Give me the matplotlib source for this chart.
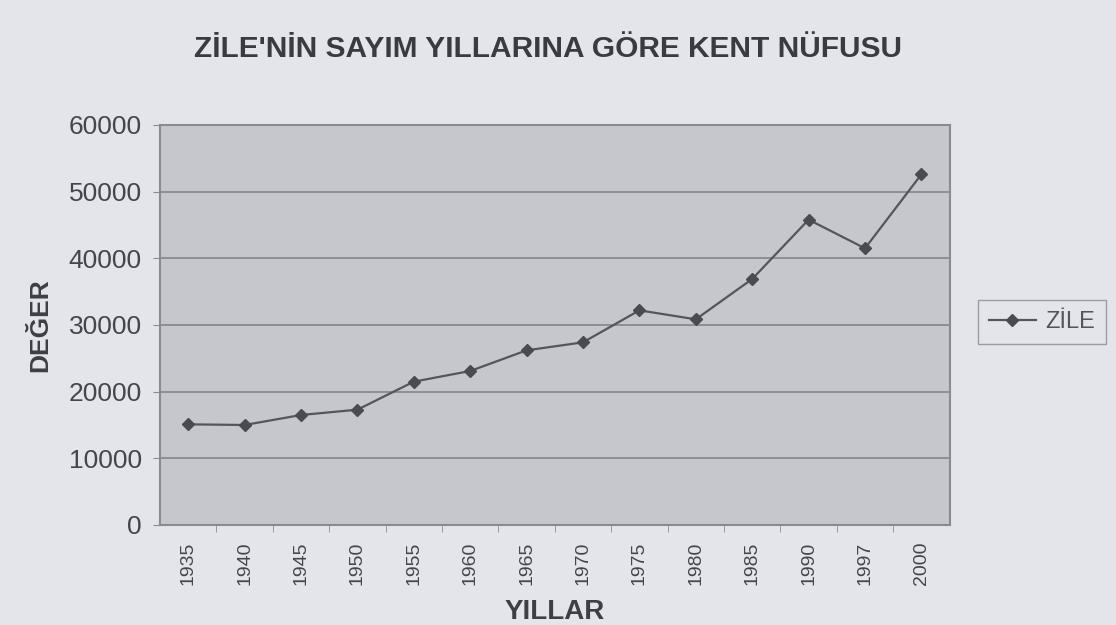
import matplotlib
matplotlib.use("Agg")
import matplotlib.pyplot as plt

years = ["1935", "1940", "1945", "1950", "1955", "1960", "1965", "1970",
         "1975", "1980", "1985", "1990", "1997", "2000"]
population = [15100, 15000, 16500, 17300, 21500, 23100, 26200, 27400,
              32200, 30850, 36900, 45800, 41500, 52600]
yticks = [0, 10000, 20000, 30000, 40000, 50000, 60000]

plt.rcParams['font.family'] = ['Liberation Sans', 'DejaVu Sans']

fig = plt.figure(figsize=(11.16, 6.25), dpi=100, facecolor="#e4e5ea")
ax = fig.add_axes([0.1434, 0.16, 0.7075, 0.64])
ax.set_facecolor("#c6c7cc")

x = list(range(len(years)))
line, = ax.plot(x, population, color="#55565c", lw=1.6, marker="D",
                markersize=6.5, markerfacecolor="#4a4b50",
                markeredgecolor="#4a4b50", label="ZİLE", zorder=3)

ax.set_xlim(-0.5, len(years) - 0.5)
ax.set_ylim(0, 60000)
ax.set_yticks(yticks)
ax.set_yticklabels([str(v) for v in yticks], fontsize=19, color="#45464c")
ax.set_xticks(x)
ax.set_xticklabels(years, rotation=90, fontsize=14, color="#45464c")
ax.set_xticks([i + 0.5 for i in x[:-1]], minor=True)
ax.tick_params(axis='x', which='major', length=0, pad=12)
ax.tick_params(axis='x', which='minor', length=5, color="#8a8b90")
ax.tick_params(axis='y', length=5, color="#8a8b90", pad=8)
ax.grid(axis='y', color="#85868b", lw=1.2)
ax.set_axisbelow(True)
for s in ax.spines.values():
    s.set_color("#8a8b90")
    s.set_linewidth(1.5)

ax.set_ylabel("DEĞER", fontsize=19, fontweight="bold", color="#3e3f45", labelpad=12)
ax.set_xlabel("YILLAR", fontsize=20, fontweight="bold", color="#3e3f45", labelpad=10)

fig.text(0.491, 0.922, "ZİLE'NİN SAYIM YILLARINA GÖRE KENT NÜFUSU",
         ha="center", va="center", fontsize=21.5, fontweight="bold",
         color="#3a3b41")

leg = fig.legend(handles=[line], loc="center left", bbox_to_anchor=(0.866, 0.485),
                 fontsize=17, frameon=True, fancybox=False, handlelength=2.0,
                 borderpad=0.45, handletextpad=0.4)
leg.get_frame().set_facecolor("#e4e5ea")
leg.get_frame().set_edgecolor("#8a8b90")
for t in leg.get_texts():
    t.set_color("#55565c")

fig.savefig("out.png", dpi=100, facecolor=fig.get_facecolor())
